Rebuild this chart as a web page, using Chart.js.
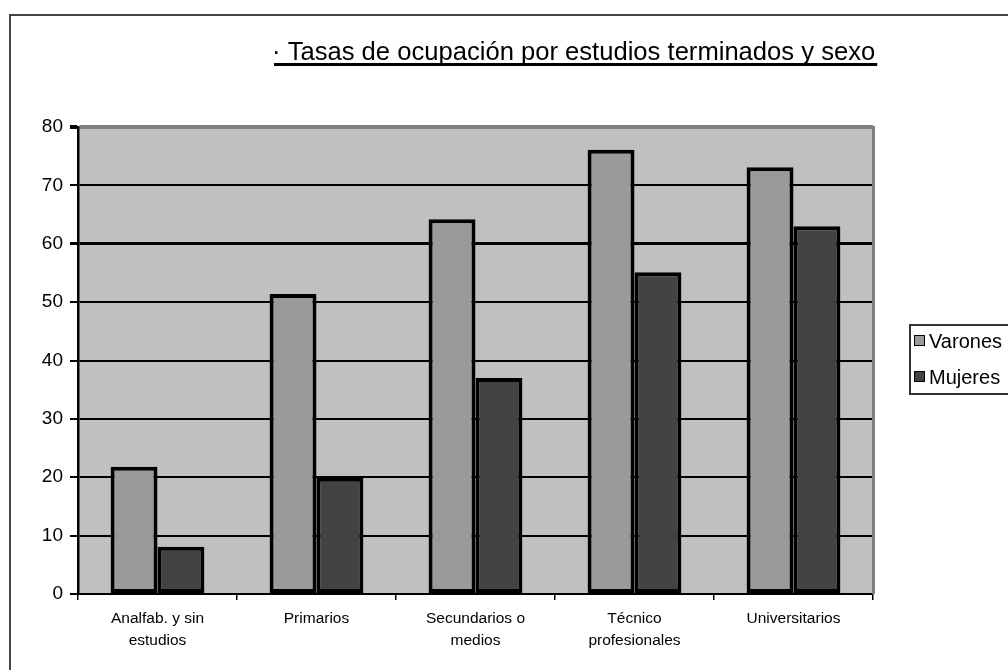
<!DOCTYPE html>
<html>
<head>
<meta charset="utf-8">
<script src="https://cdn.jsdelivr.net/npm/chart.js@4.4.1/dist/chart.umd.min.js"></script>
<style>
  html, body { margin: 0; padding: 0; background: #fff; overflow: hidden; }
  canvas { display: block; }
</style>
</head>
<body>
<canvas id="chart" width="1008" height="670"></canvas>
<script>
// Occupation rates by completed studies and sex
const chartTitle = "· Tasas de ocupación por estudios terminados y sexo";
const categories = [
  ["Analfab. y sin", "estudios"],
  ["Primarios"],
  ["Secundarios o", "medios"],
  ["Técnico", "profesionales"],
  ["Universitarios"]
];
const seriesNames = ["Varones", "Mujeres"];
const varones = [21.8, 51.4, 64.2, 76.1, 73.1];
const mujeres = [8.1, 19.9, 37.0, 55.1, 63.0];
const yTicks = [0, 10, 20, 30, 40, 50, 60, 70, 80];

const FONT = "'Liberation Sans', Arial, sans-serif";

// Page frame, grey plot wall, title and legend box
const framePlugin = {
  id: 'frame',
  beforeDraw(chart) {
    const ctx = chart.ctx, a = chart.chartArea;
    ctx.save();
    ctx.fillStyle = '#ffffff';
    ctx.fillRect(0, 0, chart.width, chart.height);
    ctx.strokeStyle = '#444444';
    ctx.lineWidth = 2;
    ctx.strokeRect(10, 15, chart.width + 20, chart.height + 20);
    ctx.fillStyle = '#c0c0c0';
    ctx.fillRect(a.left, a.top, a.right - a.left, a.bottom - a.top);
    ctx.restore();
  },
  afterDraw(chart) {
    const ctx = chart.ctx, a = chart.chartArea;
    ctx.save();
    // right wall edge
    ctx.strokeStyle = '#808080';
    ctx.lineWidth = 3;
    ctx.beginPath();
    ctx.moveTo(a.right + 0.5, a.top - 1);
    ctx.lineTo(a.right + 0.5, a.bottom);
    ctx.stroke();

    // title with underline
    ctx.font = '25.6px ' + FONT;
    ctx.fillStyle = '#000';
    ctx.textBaseline = 'alphabetic';
    ctx.textAlign = 'left';
    const tx = 272, ty = 60;
    ctx.fillText(chartTitle, tx, ty);
    const tw = ctx.measureText(chartTitle).width;
    ctx.fillRect(tx + 2, ty + 3, tw, 3);

    // legend
    const items = Chart.defaults.plugins.legend.labels.generateLabels(chart);
    ctx.strokeStyle = '#333333';
    ctx.lineWidth = 2;
    ctx.strokeRect(910, 325, 200, 69);
    ctx.font = '20px ' + FONT;
    ctx.textBaseline = 'middle';
    const rows = [341, 377];
    items.forEach((it, i) => {
      const cy = rows[i];
      ctx.fillStyle = it.fillStyle;
      ctx.fillRect(914, cy - 6, 11, 11);
      ctx.strokeStyle = '#000';
      ctx.lineWidth = 1;
      ctx.strokeRect(914.5, cy - 5.5, 10, 10);
      ctx.fillStyle = '#000';
      ctx.fillText(it.text, 929, cy + 1);
    });
    ctx.restore();
  }
};

new Chart(document.getElementById('chart'), {
  type: 'bar',
  data: {
    labels: categories,
    datasets: [
      {
        label: seriesNames[0],
        data: varones,
        backgroundColor: '#9a9a9a',
        borderColor: '#000000',
        borderWidth: 4,
        borderSkipped: false
      },
      {
        label: seriesNames[1],
        data: mujeres,
        backgroundColor: '#434343',
        borderColor: '#000000',
        borderWidth: 4,
        borderSkipped: false
      }
    ]
  },
  options: {
    responsive: false,
    animation: false,
    events: [],
    datasets: {
      bar: { categoryPercentage: 0.59, barPercentage: 1.0 }
    },
    layout: { padding: { left: 22, right: 135, top: 127, bottom: 0 } },
    plugins: {
      legend: { display: false },
      title: { display: false },
      tooltip: { enabled: false }
    },
    scales: {
      x: {
        afterFit(scale) { scale.height = 76; },
        border: { display: true, color: '#000', width: 2 },
        grid: {
          display: true,
          drawOnChartArea: false,
          drawTicks: true,
          tickLength: 6,
          color: '#000',
          lineWidth: 1.5
        },
        ticks: {
          color: '#000',
          font: { family: FONT, size: 15.5, lineHeight: 1.42 },
          padding: 8,
          maxRotation: 0,
          autoSkip: false
        }
      },
      y: {
        min: 0,
        max: 80,
        afterFit(scale) { scale.width = 56; },
        afterBuildTicks(scale) { scale.ticks = yTicks.map(v => ({ value: v })); },
        border: { display: true, color: '#000', width: 2.5 },
        grid: {
          drawTicks: true,
          tickLength: 8,
          tickColor: '#000',
          color(ctx) {
            return ctx.tick && ctx.tick.value === 80 ? '#808080' : '#000';
          },
          lineWidth(ctx) {
            if (!ctx.tick) return 2;
            if (ctx.tick.value === 80) return 4;
            if (ctx.tick.value === 60) return 3;
            return 2;
          }
        },
        ticks: {
          color: '#000',
          font: { family: FONT, size: 19 },
          padding: 7
        }
      }
    }
  },
  plugins: [framePlugin]
});
</script>
</body>
</html>
